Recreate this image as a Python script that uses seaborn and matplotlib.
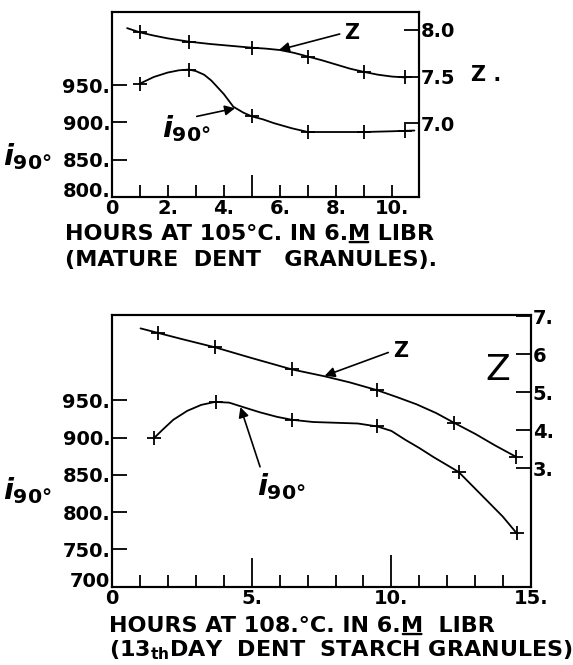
import matplotlib
matplotlib.use("Agg")
import matplotlib.pyplot as plt
import seaborn as sns

# estilo simples, fundo branco
sns.set_style("ticks")
plt.rcParams['font.family'] = ['DejaVu Sans']
plt.rcParams['mathtext.fontset'] = 'dejavusans'
plt.rcParams.update({"text.color": "black", "xtick.color": "black", "ytick.color": "black",
                     "axes.edgecolor": "black", "font.weight": "bold"})

# --- painel de cima (mature dent granules) ---
top_hours_pts = [1.0, 2.75, 5.0, 7.0, 9.0, 10.45]
top_z_pts = [7.975, 7.875, 7.81, 7.715, 7.55, 7.49]
top_i_pts = [952, 971, 908, 887, 887, 889]

# curvas desenhadas a mao
top_z_curve_hours = [0.55, 1.0, 1.5, 2.0, 2.75, 3.5, 4.25, 5.0, 5.5, 6.0, 6.5, 7.0, 7.5, 8.0, 8.5, 9.0, 9.5, 10.0, 10.5]
top_z_curve = [8.02, 7.975, 7.94, 7.91, 7.875, 7.85, 7.83, 7.81, 7.80, 7.785, 7.755, 7.715, 7.675, 7.63, 7.585, 7.55, 7.52, 7.50, 7.49]
top_i_curve_hours = [1.0, 1.5, 2.0, 2.4, 2.75, 3.0, 3.3, 3.56, 4.0, 4.34, 4.7, 5.0, 5.4, 5.78, 6.43, 7.0, 8.0, 9.0, 10.0, 10.8]
top_i_curve = [952, 961, 967, 970, 971, 969, 964, 956, 938, 921, 913, 908, 904, 899, 892, 887, 887, 887, 888, 889]

top_x_ticks = [0, 1, 2, 3, 4, 5, 6, 7, 8, 9, 10]
top_x_labels = ["0", "", "2.", "", "4.", "", "6.", "", "8.", "", "10."]
top_i_ticks = [800, 850, 900, 950]
top_i_labels = ["800.", "850.", "900.", "950."]
top_z_ticks = [7.0, 7.5, 8.0]
top_z_labels = ["7.0", "7.5", "8.0"]

# --- painel de baixo (13th day dent starch granules) ---
bot_hours_pts = [1.66, 3.7, 6.44, 9.5, 12.25, 14.45]
bot_z_pts = [6.56, 6.18, 5.60, 5.05, 4.19, 3.30]
bot_i_hours_pts = [1.5, 3.73, 6.44, 9.5, 12.4, 14.47]
bot_i_pts = [899, 948, 924, 915, 854, 772]

bot_z_curve_hours = [1.03, 1.66, 2.5, 3.7, 5.0, 6.44, 7.6, 8.5, 9.5, 10.2, 10.9, 11.6, 12.25, 13.0, 13.7, 14.45]
bot_z_curve = [6.68, 6.56, 6.40, 6.18, 5.90, 5.60, 5.42, 5.26, 5.05, 4.87, 4.68, 4.45, 4.19, 3.90, 3.60, 3.30]
bot_i_curve_hours = [1.5, 1.8, 2.2, 2.7, 3.2, 3.7, 4.2, 4.7, 5.3, 5.9, 6.44, 7.2, 8.0, 8.8, 9.5, 10.0, 10.5, 11.0, 11.5, 12.4, 13.27, 13.98, 14.47]
bot_i_curve = [899, 910, 924, 936, 944, 948, 947, 941, 934, 928, 924, 921, 920, 919, 915, 909, 897, 886, 874, 854, 821, 794, 772]

bot_x_ticks = list(range(0, 16))
bot_x_labels = ["0", "", "", "", "", "5.", "", "", "", "", "10.", "", "", "", "", "15."]
bot_i_ticks = [700, 750, 800, 850, 900, 950]
bot_i_labels = ["700", "750.", "800.", "850.", "900.", "950."]
bot_z_ticks = [3, 4, 5, 6, 7]
bot_z_labels = ["3.", "4.", "5.", "6", "7."]

fig = plt.figure(figsize=(5.73, 6.65), dpi=100)
ax1 = fig.add_axes([0.195, 0.7042, 0.536, 0.2773])
ax1z = ax1.twinx()
ax2 = fig.add_axes([0.195, 0.1178, 0.7323, 0.4078])
ax2z = ax2.twinx()

linha = dict(color="black", linewidth=1.3, estimator=None, sort=False)
cruz = dict(marker="+", s=110, color="black", linewidth=1.3)

# curvas + pontos
sns.lineplot(x=top_i_curve_hours, y=top_i_curve, ax=ax1, **linha)
sns.scatterplot(x=top_hours_pts, y=top_i_pts, ax=ax1, **cruz)
sns.lineplot(x=top_z_curve_hours, y=top_z_curve, ax=ax1z, **linha)
sns.scatterplot(x=top_hours_pts, y=top_z_pts, ax=ax1z, **cruz)

sns.lineplot(x=bot_i_curve_hours, y=bot_i_curve, ax=ax2, **linha)
sns.scatterplot(x=bot_i_hours_pts, y=bot_i_pts, ax=ax2, **cruz)
sns.lineplot(x=bot_z_curve_hours, y=bot_z_curve, ax=ax2z, **linha)
sns.scatterplot(x=bot_hours_pts, y=bot_z_pts, ax=ax2z, **cruz)

# limites
ax1.set_xlim(0, 10.96)
ax1.set_ylim(800, 1048)
ax1z.set_ylim(6.21, 8.19)
ax2.set_xlim(0, 15)
ax2.set_ylim(700, 1064)
ax2z.set_ylim(-0.12, 7.02)

for a in [ax1, ax1z, ax2, ax2z]:
    a.set_xlabel("")
    a.set_ylabel("")
    for s in a.spines.values():
        s.set_linewidth(1.5)
        s.set_color("black")
    a.tick_params(direction="in", length=11, width=1.3, colors="black", labelsize=14, pad=1)

ax1.set_xticks(top_x_ticks, top_x_labels)
ax1.set_yticks(top_i_ticks, top_i_labels)
ax1z.set_yticks(top_z_ticks, top_z_labels)
ax2.set_xticks(bot_x_ticks, bot_x_labels)
ax2.set_yticks(bot_i_ticks, bot_i_labels)
ax2z.set_yticks(bot_z_ticks, bot_z_labels)
ax1.tick_params(axis="x", length=9, pad=2)
ax2.tick_params(axis="x", length=9, pad=2)

# o rotulo de baixo fica um pouco acima do eixo x
ax1.get_yticklabels()[0].set_va("baseline")
ax2.get_yticklabels()[0].set_va("baseline")

# marcas longas em 5 (e 10 embaixo)
ax1.xaxis.get_major_ticks()[5].tick1line.set_markersize(16)
ax2.xaxis.get_major_ticks()[5].tick1line.set_markersize(21)
ax2.xaxis.get_major_ticks()[10].tick1line.set_markersize(23)

seta = dict(arrowstyle="-|>", color="black", lw=1.2, mutation_scale=15, shrinkA=1, shrinkB=0)

# anotacoes painel de cima
ax1z.annotate("Z", xy=(5.97, 7.786), xytext=(8.3, 7.97), fontsize=15, ha="left", va="center",
              arrowprops=dict(relpos=(0, 0.5), **seta))
ax1.annotate(r"$i_{\mathbf{90°}}$", xy=(4.4, 919), xytext=(1.8, 891), fontsize=21, ha="left", va="center",
             arrowprops=dict(relpos=(0.68, 0.9), patchA=None, **seta))

# anotacoes painel de baixo
ax2z.annotate("Z", xy=(7.61, 5.43), xytext=(10.05, 6.09), fontsize=15, ha="left", va="center",
              arrowprops=dict(relpos=(0, 0.5), **seta))
ax2.annotate(r"$i_{\mathbf{90°}}$", xy=(4.6, 941), xytext=(5.2, 834), fontsize=21, ha="left", va="center",
             arrowprops=dict(relpos=(0.1, 0.95), **seta))

# rotulos dos eixos
fig.text(0.005, 0.764, r"$i_{\mathbf{90°}}$", fontsize=21, ha="left", va="center")
fig.text(0.822, 0.887, "Z .", fontsize=15, ha="left", va="center")
fig.text(0.005, 0.263, r"$i_{\mathbf{90°}}$", fontsize=21, ha="left", va="center")
fig.text(0.869, 0.444, "Z", fontsize=26, fontweight="normal", ha="center", va="center")


def titulo(ax, x, y, antes, depois):
    # texto "... 6." + M sublinhado + " LIBR"
    t1 = fig.text(x, y, antes, fontsize=16, ha="left", va="center")
    m = ax.annotate("M", xy=(1, 0), xycoords=t1, fontsize=16, ha="left", va="bottom")
    ax.annotate(depois, xy=(1, 0), xycoords=m, fontsize=16, ha="left", va="bottom")
    ax.annotate("", xy=(0.92, 0.1), xycoords=m, xytext=(0.08, 0.1), textcoords=m,
                arrowprops=dict(arrowstyle="-", lw=1.7, color="black", shrinkA=0, shrinkB=0, patchA=None))


titulo(ax1, 0.113, 0.648, "HOURS AT 105°C. IN 6.", " LIBR")
fig.text(0.113, 0.609, "(MATURE  DENT   GRANULES).", fontsize=16, ha="left", va="center")
titulo(ax2, 0.191, 0.0586, "HOURS AT 108.°C. IN 6.", "  LIBR")
fig.text(0.191, 0.0226, r"(13$_{\mathbf{th}}$DAY  DENT  STARCH GRANULES)", fontsize=16, ha="left", va="center")

fig.savefig("out.png", dpi=100)
